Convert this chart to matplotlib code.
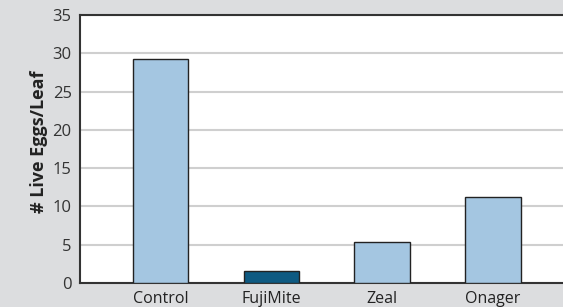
import matplotlib.pyplot as plt

categories = ["Control", "FujiMite", "Zeal", "Onager"]
eggs = [29.2, 1.6, 5.35, 11.2]
bar_colors = ["#a4c6e1", "#0e5a82", "#a4c6e1", "#a4c6e1"]
yticks = [0, 5, 10, 15, 20, 25, 30, 35]

plt.rcParams['font.family'] = ['Open Sans', 'DejaVu Sans']

fig = plt.figure(figsize=(5.63, 3.07), dpi=100)
fig.patch.set_facecolor("#dcdddf")
ax = fig.add_axes([80/563, 24/307, 483/563, 268/307])
ax.set_facecolor("white")

x = range(len(categories))
ax.bar(x, eggs, width=0.5, color=bar_colors, edgecolor="#222222", linewidth=1.0, zorder=3)

ax.set_ylim(0, 35)
ax.set_xlim(-0.725, 3.63)
ax.set_yticks(yticks)
ax.set_yticklabels([str(t) for t in yticks], fontsize=12, color="#333333")
ax.set_xticks(list(x))
ax.set_xticklabels(categories, fontsize=11.5, color="#222222")
ax.tick_params(axis="both", length=0)
ax.tick_params(axis="x", pad=5.5)
ax.tick_params(axis="y", pad=6)
ax.yaxis.grid(True, color="#cfcfcf", linewidth=1.5, zorder=0)
ax.set_axisbelow(True)

for side in ["left", "bottom", "top"]:
    ax.spines[side].set_color("#333333")
    ax.spines[side].set_linewidth(1.5)
ax.spines["right"].set_visible(False)

ax.set_ylabel("# Live Eggs/Leaf", fontsize=13, fontweight="bold", color="#222222")
ax.yaxis.set_label_coords(-0.066, 0.526)

fig.savefig("out.png", dpi=100, facecolor=fig.get_facecolor())
